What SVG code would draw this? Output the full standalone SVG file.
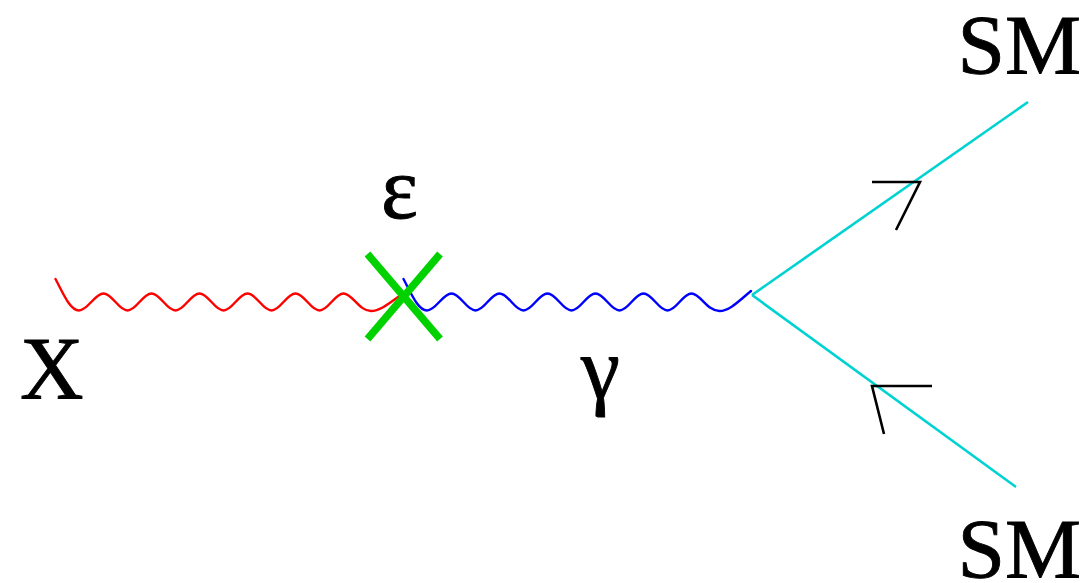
<svg xmlns="http://www.w3.org/2000/svg" width="1083" height="583" viewBox="0 0 1083 583">
<style>
.t{font-family:"Liberation Serif","Times New Roman",serif;font-size:88px;fill:#000;stroke:#000;stroke-width:.9}
.s{font-size:85.500px}
.w{fill:none;stroke-width:2.4;stroke-linejoin:round;stroke-linecap:round}
.f{fill:none;stroke:#00d2d2;stroke-width:2.6}
.a{fill:none;stroke:#000;stroke-width:2.6}
.x{fill:none;stroke:#00d200;stroke-width:7.5}
</style>
<rect width="1083" height="583" fill="#fff"/>
<g id="connectors">
<path id="photon-x" class="w" stroke="#ff0000" d="M55.500 279C63 293 70 310.500 79 310.500C87.700 310.500 94.800 293.500 103.500 293.500C112.200 293.500 118.800 310.500 127.500 310.500C136.200 310.500 142.800 293.500 151.500 293.500C160.200 293.500 166.800 310.500 175.500 310.500C184.200 310.500 190.800 293.500 199.500 293.500C208.200 293.500 214.800 310.500 223.500 310.500C232.200 310.500 238.800 293.500 247.500 293.500C256.200 293.500 262.800 310.500 271.500 310.500C280.200 310.500 286.800 293.500 295.500 293.500C304.200 293.500 310.800 310.500 319.500 310.500C328.200 310.500 334.800 293.500 343.500 293.500C352.200 293.500 359 311 371 311C381 311 392 301 401 295"/>
<path id="photon-gamma" class="w" stroke="#0000ff" d="M403.500 279C411 293 418 310.500 427 310.500C435.700 310.500 442.800 293.500 451.500 293.500C460.200 293.500 466.800 310.500 475.500 310.500C484.200 310.500 490.800 293.500 499.500 293.500C508.200 293.500 514.800 310.500 523.500 310.500C532.200 310.500 538.800 293.500 547.500 293.500C556.200 293.500 562.800 310.500 571.500 310.500C580.200 310.500 586.800 293.500 595.500 293.500C604.200 293.500 610.800 310.500 619.500 310.500C628.200 310.500 634.800 293.500 643.500 293.500C652.200 293.500 658.800 310.500 667.500 310.500C676.200 310.500 682.800 293.500 691.500 293.500C700.200 293.500 707 311 719.500 311C730 311 741 299 751 291"/>
<line id="fermion-top" class="f" x1="752" y1="295" x2="1028" y2="102"/>
<line id="fermion-bottom" class="f" x1="752" y1="295" x2="1016" y2="487"/>
<polyline id="arrow-top" class="a" points="872,182 920,182 896,230"/>
<polyline id="arrow-bottom" class="a" points="932,386 872,386 884,434"/>
</g>
<g id="vertex"><path class="x" d="M367.500 254L440 339M440 254L367.500 339"/></g>
<g id="label-x"><text class="t" x="20" y="398">X</text></g>
<g id="label-epsilon"><text class="t" x="381" y="218">ε</text></g>
<g id="label-gamma"><text class="t" x="581" y="398">γ</text></g>
<g id="label-sm-top"><text class="t s" x="957.500" y="74">SM</text></g>
<g id="label-sm-bottom"><text class="t s" x="957.500" y="578">SM</text></g>
</svg>
